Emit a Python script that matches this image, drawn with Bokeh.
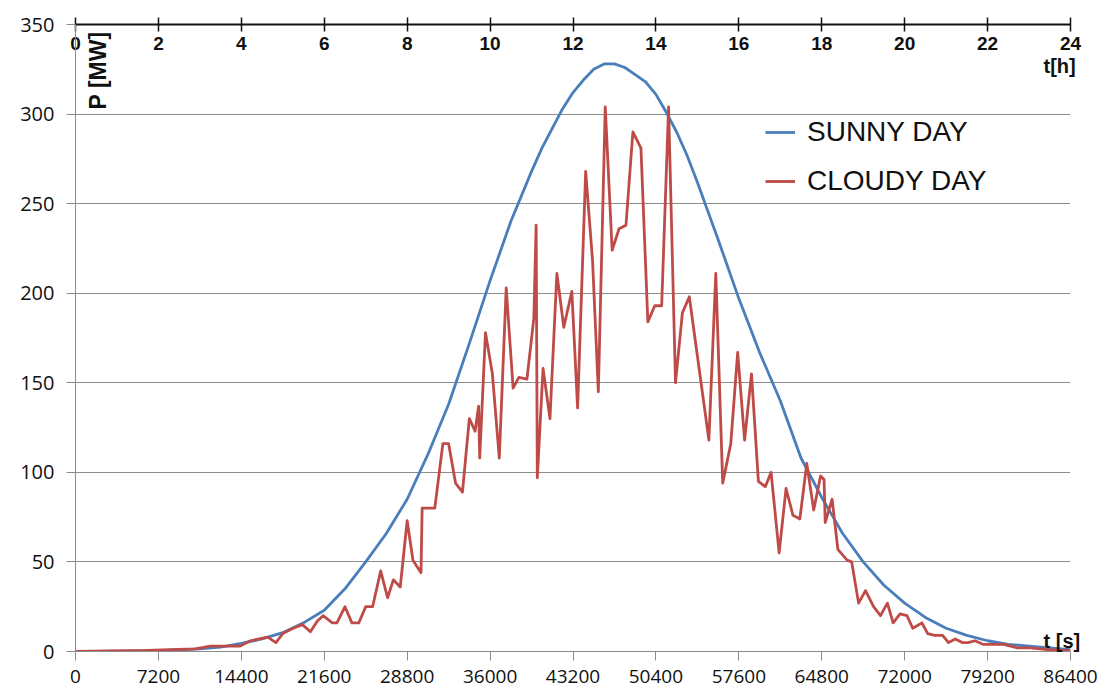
import math
from bokeh.plotting import figure
from bokeh.models import Range1d, LinearAxis, FixedTicker, Label, Legend, LegendItem, ColumnDataSource, BasicTickFormatter
from bokeh.embed import file_html
from bokeh.resources import INLINE

# ---- data ----
sunny_t = [0, 1800, 3600, 5400, 7200, 9000, 10800, 12600, 14400, 16200, 18000, 19800,
           21600, 23400, 25200, 27000, 28800, 30600, 32400, 34200, 36000, 37800,
           39600, 40500, 41400, 42300, 43200, 44100, 45000, 45900, 46800, 47700,
           48600, 49500, 50400, 51300, 52200, 53100, 54000, 55800, 57600, 59400,
           61200, 63000, 64800, 66600, 68400, 70200, 72000, 73800, 75600, 77400,
           79200, 81000, 82800, 84600, 86400]
sunny_p = [0, 0.1, 0.2, 0.3, 0.5, 0.9, 1.5, 2.5, 4.5, 7, 10.5, 16,
           23, 35, 50, 66, 85, 110, 138, 172, 207, 240,
           268, 281, 292, 303, 312, 319, 325, 328, 328, 326,
           322, 318, 311, 301, 290, 277, 262, 230, 197, 167,
           140, 108, 86, 66, 50, 37, 27, 19, 13, 9,
           6, 4, 3, 2, 1]

cloudy_t = [0, 3000, 5600, 8200, 10400, 11700, 13000, 14300, 15200, 16700, 17400, 18000,
            18900, 19700, 20400, 21000, 21500, 22300, 22700, 23400, 24000, 24600, 25200,
            25800, 26500, 27100, 27600, 28200, 28800, 29300, 30000, 30100, 31200, 31900,
            32400, 33000, 33600, 34200, 34700, 35000, 35100, 35600, 36200, 36800, 37400,
            38000, 38500, 39200, 39800, 40000, 40100, 40600, 41200, 41800, 42400, 43100,
            43600, 44300, 44900, 45400, 46000, 46600, 47200, 47800, 48400, 49100, 49700,
            50300, 50900, 51500, 52100, 52700, 53300, 55000, 55600, 56200, 56900, 57500,
            58100, 58700, 59300, 59900, 60400, 61100, 61700, 62300, 62900, 63500, 64100,
            64700, 65000, 65100, 65700, 66200, 67000, 67400, 68000, 68600, 69300, 69900,
            70500, 71000, 71600, 72200, 72700, 73500, 74000, 74600, 75300, 75800, 76400,
            77000, 77500, 78100, 78800, 79700, 80600, 81800, 82900, 84400, 86400]
cloudy_p = [0, 0.3, 0.5, 1, 1.5, 3, 3, 3, 6, 8, 5, 10,
            13, 15, 11, 17, 20, 16, 16, 25, 16, 16, 25,
            25, 45, 30, 40, 36, 73, 51, 44, 80, 80, 116,
            116, 94, 89, 130, 123, 137, 108, 178, 155, 108, 203,
            147, 153, 152, 186, 238, 97, 158, 130, 211, 181, 201,
            136, 268, 218, 145, 304, 224, 236, 238, 290, 281, 184,
            193, 193, 304, 150, 189, 198, 118, 211, 94, 116, 167,
            118, 155, 95, 92, 100, 55, 91, 76, 74, 105, 79,
            98, 96, 72, 85, 57, 51, 50, 27, 34, 25, 20,
            27, 16, 21, 20, 13, 16, 10, 9, 9, 5, 7,
            5, 5, 6, 4, 4, 4, 2, 2, 1, 0.5]

sec_ticks = [0, 7200, 14400, 21600, 28800, 36000, 43200, 50400, 57600, 64800, 72000, 79200, 86400]
hour_ticks = [0, 2, 4, 6, 8, 10, 12, 14, 16, 18, 20, 22, 24]
p_ticks = [0, 50, 100, 150, 200, 250, 300, 350]
unit_labels = {6: "t [s]", 327: "t[h]"}

BLUE = "#4a7ebb"
RED = "#be4b48"
GRID = "#8c8c8c"
INK = "#111111"

p = figure(frame_width=995, frame_height=627, output_backend="svg", toolbar_location=None,
           x_range=Range1d(0, 86400), y_range=Range1d(0, 350),
           min_border_left=75, min_border_right=28, min_border_top=24, min_border_bottom=44,
           background_fill_color="white", border_fill_color="white")
p.outline_line_color = None
p.extra_x_ranges = {"h": Range1d(0, 24)}

# bottom axis
xa = p.xaxis[0]
xa.ticker = FixedTicker(ticks=sec_ticks)
xa.formatter = BasicTickFormatter(use_scientific=False)
xa.axis_line_color = GRID
xa.major_tick_line_color = GRID
xa.major_tick_in = 0
xa.major_tick_out = 9
xa.minor_tick_line_color = None
xa.major_label_text_font = "Open Sans"
xa.major_label_text_font_size = "19px"
xa.major_label_text_color = INK
xa.major_label_standoff = 9

# left axis
ya = p.yaxis[0]
ya.ticker = FixedTicker(ticks=p_ticks)
ya.axis_line_color = GRID
ya.major_tick_line_color = GRID
ya.major_tick_in = 0
ya.major_tick_out = 9
ya.minor_tick_line_color = None
ya.major_label_text_font = "Open Sans"
ya.major_label_text_font_size = "20px"
ya.major_label_text_color = INK
ya.major_label_standoff = 12

p.xgrid.visible = False
p.ygrid.ticker = FixedTicker(ticks=p_ticks)
p.ygrid.grid_line_color = GRID
p.ygrid.grid_line_width = 1

# top hours axis, labels inside the plot
top = LinearAxis(x_range_name="h", ticker=FixedTicker(ticks=hour_ticks))
top.axis_line_color = INK
top.axis_line_width = 2
top.major_tick_line_color = INK
top.major_tick_line_width = 1.5
top.major_tick_in = 7
top.major_tick_out = 7
top.minor_tick_line_color = None
top.major_label_text_font = "Liberation Sans"
top.major_label_text_font_style = "bold"
top.major_label_text_font_size = "19px"
top.major_label_text_color = INK
top.major_label_standoff = -32
p.add_layout(top, "above")

# unit labels at the right end (axis labels are not clipped by the frame)
unit = LinearAxis(ticker=FixedTicker(ticks=list(unit_labels.keys())))
unit.major_label_overrides = unit_labels
unit.axis_line_color = None
unit.major_tick_line_color = None
unit.minor_tick_line_color = None
unit.major_tick_in = 0
unit.major_tick_out = 0
unit.major_label_standoff = -27
unit.major_label_text_font = "Liberation Sans"
unit.major_label_text_font_style = "bold"
unit.major_label_text_font_size = "20px"
unit.major_label_text_color = INK
p.add_layout(unit, "right")

src_s = ColumnDataSource(dict(t=sunny_t, p=sunny_p))
src_c = ColumnDataSource(dict(t=cloudy_t, p=cloudy_p))
r_s = p.line("t", "p", source=src_s, line_color=BLUE, line_width=2.8, line_join="round")
r_c = p.line("t", "p", source=src_c, line_color=RED, line_width=2.8, line_join="round")

legend = Legend(items=[LegendItem(label="SUNNY DAY", renderers=[r_s]),
                       LegendItem(label="CLOUDY DAY", renderers=[r_c])],
                location=(690, 454))
legend.border_line_color = None
legend.background_fill_alpha = 0
legend.label_text_font = "Liberation Sans"
legend.label_text_font_size = "28px"
legend.label_text_color = INK
legend.glyph_width = 30
legend.glyph_height = 30
legend.label_height = 30
legend.label_standoff = 12
legend.spacing = 17
legend.padding = 0
legend.margin = 0
p.add_layout(legend, "center")

p.add_layout(Label(x=0, y=350, text="P [MW]", angle=math.pi / 2, text_align="right",
                   text_baseline="bottom", x_offset=35, y_offset=-7,
                   text_font="Liberation Sans", text_font_style="bold",
                   text_font_size="23px", text_color=INK))

open("out.html", "w").write(file_html(p, INLINE))
